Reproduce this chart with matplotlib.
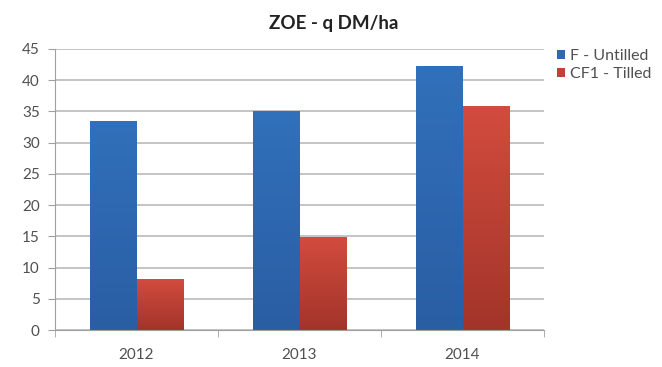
import matplotlib.pyplot as plt
import numpy as np
from matplotlib.colors import LinearSegmentedColormap

years = ["2012", "2013", "2014"]
untilled = [33.4, 35.0, 42.2]
tilled = [8.2, 14.9, 35.8]
series_names = ["F - Untilled", "CF1 - Tilled"]

plt.rcParams["font.family"] = ["Lato", "DejaVu Sans"]

fig = plt.figure(figsize=(6.62, 3.67), dpi=100)
ax = fig.add_axes([55 / 662, 37 / 367, 489 / 662, 281 / 367])

x = np.arange(len(years))
w = 1 / 3.5  # gap width 150%

blue_cmap = LinearSegmentedColormap.from_list("b", ["#2a5ea3", "#3170bb"])
red_cmap = LinearSegmentedColormap.from_list("r", ["#a3342a", "#d24c3e"])


def gradient_bars(xs, vals, cmap, label):
    bars = ax.bar(xs, vals, w, color=cmap(0.6), label=label, zorder=2)
    for b in bars:
        x0, y0 = b.get_x(), b.get_y()
        im = ax.imshow(np.linspace(0, 1, 100).reshape(-1, 1), cmap=cmap,
                       extent=[x0, x0 + b.get_width(), y0, y0 + b.get_height()],
                       origin="lower", aspect="auto", zorder=2.5)
        im.set_clip_path(b)
    return bars


gradient_bars(x - w / 2, untilled, blue_cmap, series_names[0])
gradient_bars(x + w / 2, tilled, red_cmap, series_names[1])

ax.set_xlim(-0.5, 2.5)
ax.set_ylim(0, 45)
ax.set_yticks(range(0, 50, 5))
ax.set_xticks(x)
ax.set_xticklabels(years)
ax.set_xticks([-0.5, 0.5, 1.5, 2.5], minor=True)
ax.tick_params(axis="x", which="major", length=0, pad=13)
ax.tick_params(axis="x", which="minor", length=5, color="#a0a0a0")
ax.tick_params(axis="y", length=5, color="#a0a0a0", pad=6)
ax.tick_params(labelsize=11, labelcolor="#505050")
ax.grid(axis="y", color="#b4b4b4", linewidth=1.1, zorder=0)
ax.set_axisbelow(True)
for s in ["top", "right"]:
    ax.spines[s].set_visible(False)
for s in ["left", "bottom"]:
    ax.spines[s].set_color("#a0a0a0")

fig.text(334 / 662, 1 - 24 / 367, "ZOE - q DM/ha", ha="center", va="center",
         fontsize=13.5, fontweight="bold", color="#222222")

handles, labels = ax.get_legend_handles_labels()
leg = fig.legend(handles, labels, loc="upper left", bbox_to_anchor=(551 / 662, 1 - 43 / 367),
                 frameon=False, fontsize=11.5, handlelength=0.5, handleheight=0.5,
                 handletextpad=0.3, labelspacing=0.25, borderaxespad=0)
for t in leg.get_texts():
    t.set_color("#505050")

fig.savefig("out.png", dpi=100)
